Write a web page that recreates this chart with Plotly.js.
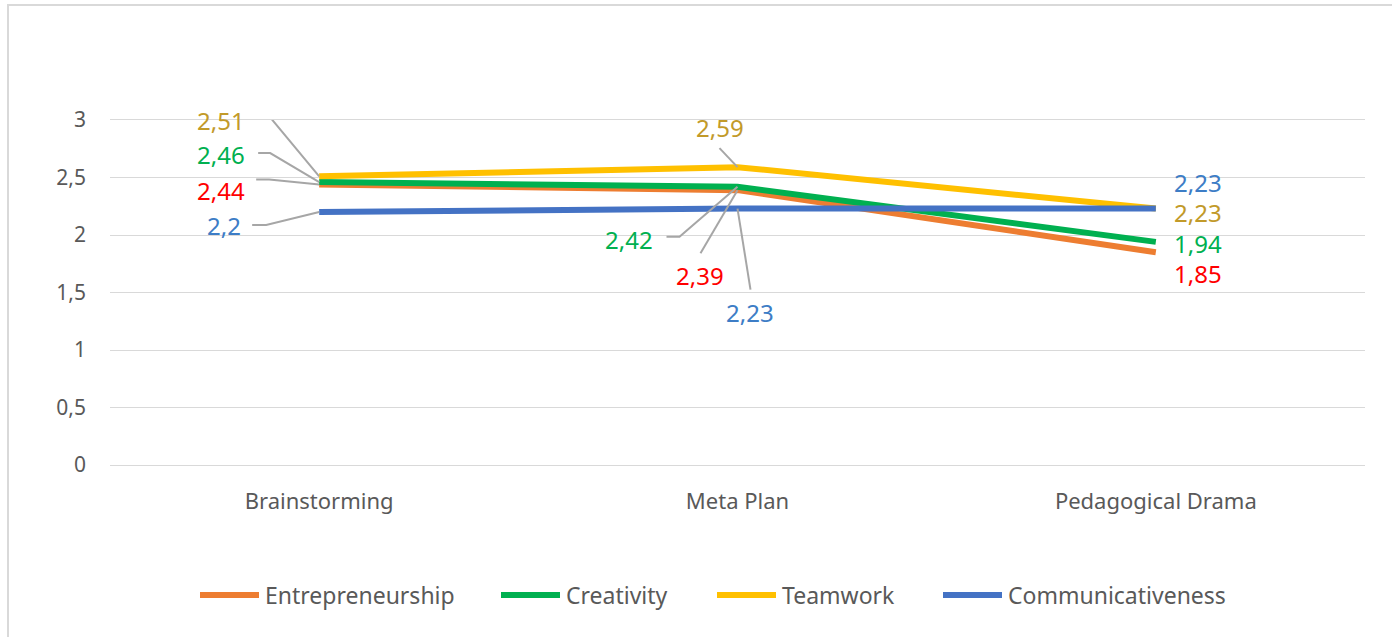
<!DOCTYPE html>
<html>
<head>
<meta charset="utf-8">
<script src="https://cdn.plot.ly/plotly-3.0.1.min.js"></script>
<style>
  html, body { margin: 0; padding: 0; background: #fff; }
  #wrap { position: relative; width: 1392px; height: 637px; overflow: hidden; }
  #chart { width: 1392px; height: 637px; }
  #frame { position: absolute; left: 7px; top: 4px; width: 1400px; height: 700px;
           border-top: 2px solid #d9d9d9; border-left: 2px solid #d9d9d9; pointer-events: none; }
</style>
</head>
<body>
<div id="wrap"><div id="chart"></div><div id="frame"></div></div>
<script>
// ---- data ----
const categories = ["Brainstorming", "Meta Plan", "Pedagogical Drama"];
const seriesNames = ["Entrepreneurship", "Creativity", "Teamwork", "Communicativeness"];
const entrepreneurship = [2.44, 2.39, 1.85];
const creativity = [2.46, 2.42, 1.94];
const teamwork = [2.51, 2.59, 2.23];
const communicativeness = [2.2, 2.23, 2.23];
const yTicks = [0, 0.5, 1, 1.5, 2, 2.5, 3];

// ---- styles ----
const lineColors = ["#ED7D31", "#00B050", "#FFC000", "#4472C4"];
const labelColors = ["#FF0000", "#00B050", "#C29A2A", "#3D7DC6"];
const FONT = "Noto Sans, Open Sans, sans-serif";

const seriesValues = [entrepreneurship, creativity, teamwork, communicativeness];

const traces = seriesValues.map((vals, i) => ({
  type: "scatter", mode: "lines",
  x: categories, y: vals, name: seriesNames[i],
  line: { color: lineColors[i], width: 6 },
  hoverinfo: "skip", showlegend: false
}));

// label placement (pixel offsets from each point) [series][category]: [xshift, yshift, xanchor, leaderPath or null]
const placement = [
  [ [-72, -6, "right", "M0,0 L-50,5 L-63,5"], [-38, -85, "center", "M0,0 L-37,-63"], [16, -21, "left", null] ],
  [ [-72, 28, "right", "M0,0 L-49,29 L-61,29"], [-83, -53, "right", "M0,0 L-58,-50 L-71,-50"], [16, -2, "left", null] ],
  [ [-72, 56, "right", "M0,0 L-49,59 L-61,59"], [-18, 40, "center", "M0,0 L-18,19"], [16, -4, "left", null] ],
  [ [-76, -13, "right", "M0,0 L-53,-13 L-67,-13"], [12, -104, "center", "M0,0 L13,-81"], [16, 26, "left", null] ]
];

// plot-area geometry (px) for converting legend positions to paper coords
const PL = 110, PR = 1365, PT = 120, PB = 465;
const px2x = p => (p - PL) / (PR - PL);
const py2y = p => (PB - p) / (PB - PT);
const legendStarts = [197, 498, 714, 940];   // px, left end of each legend sample
const legendY = 595;

const fmt = v => String(v).replace(".", ",");
const annotations = [];
const shapes = [];
seriesValues.forEach((vals, s) => {
  vals.forEach((v, c) => {
    const p = placement[s][c];
    annotations.push({
      x: categories[c], y: v, xref: "x", yref: "y",
      text: fmt(v), showarrow: false,
      xanchor: p[2], yanchor: "middle",
      xshift: p[0], yshift: p[1],
      font: { family: FONT, size: 24, color: labelColors[s] }
    });
    if (p[3]) {
      shapes.push({
        type: "path", xref: "x", yref: "y",
        xsizemode: "pixel", ysizemode: "pixel",
        xanchor: categories[c], yanchor: v,
        path: p[3],
        line: { color: "#A6A6A6", width: 2 },
        layer: "above"
      });
    }
  });
});

// manual legend (to match the wide spacing of the original)
seriesNames.forEach((name, i) => {
  const x0 = legendStarts[i];
  shapes.push({
    type: "line", xref: "paper", yref: "paper",
    x0: px2x(x0 + 3), x1: px2x(x0 + 62), y0: py2y(legendY), y1: py2y(legendY),
    line: { color: lineColors[i], width: 6 }
  });
  annotations.push({
    xref: "paper", yref: "paper", x: px2x(x0 + 66), y: py2y(legendY),
    xanchor: "left", yanchor: "middle", showarrow: false, text: name,
    font: { family: FONT, size: 23, color: "#595959" }
  });
});

const layout = {
  width: 1392, height: 637,
  margin: { l: PL, r: 1392 - PR, t: PT, b: 637 - PB },
  paper_bgcolor: "#ffffff", plot_bgcolor: "#ffffff",
  separators: ", ",
  showlegend: false,
  font: { family: FONT, color: "#595959" },
  xaxis: {
    type: "category", range: [-0.5, 2.5],
    showgrid: false, zeroline: false,
    showline: true, mirror: true, linecolor: "#D9D9D9", linewidth: 1,
    ticks: "", tickfont: { family: FONT, size: 22, color: "#595959" },
    ticklabelstandoff: 17, fixedrange: true
  },
  yaxis: {
    range: [0, 3], tickvals: yTicks,
    ticktext: yTicks.map(fmt),
    showgrid: true, gridcolor: "#D9D9D9", gridwidth: 1,
    zeroline: false, showline: false, ticks: "",
    tickfont: { family: FONT, size: 21, color: "#595959" },
    ticklabelstandoff: 23, fixedrange: true
  },
  annotations: annotations,
  shapes: shapes
};

Plotly.newPlot("chart", traces, layout, { displayModeBar: false, staticPlot: true });
</script>
</body>
</html>
